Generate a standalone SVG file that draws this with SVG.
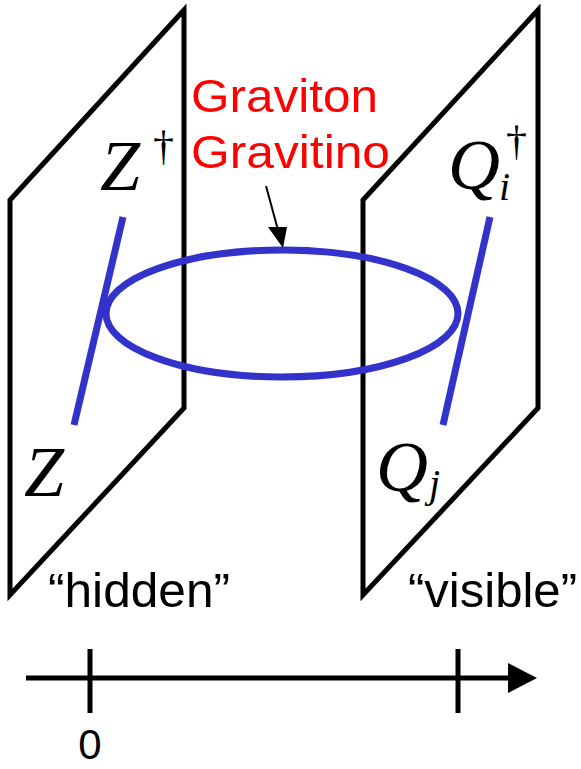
<svg xmlns="http://www.w3.org/2000/svg" width="581" height="769" viewBox="0 0 581 769">
<style>
.plane{fill:none;stroke:#000;stroke-width:5;stroke-linejoin:miter}
.blue{fill:none;stroke:#3333cc;stroke-width:7}
.lbl{font-family:"Liberation Sans",Arial,sans-serif;font-size:48px;fill:#000}
.red{font-family:"Liberation Sans",Arial,sans-serif;font-size:47px;fill:#ff0000}
.math{font-family:"Liberation Serif","Times New Roman",serif;font-style:italic;fill:#000}
.up{font-family:"Liberation Serif","Times New Roman",serif;fill:#000}
.ax{stroke:#000;stroke-width:5;fill:none}
</style>
<rect width="581" height="769" fill="#fff"/>
<g id="hidden-plane">
<polygon class="plane" points="10,200 184,10 184,408 10,595"/>
</g>
<g id="visible-plane">
<polygon class="plane" points="363,200 538,10 538,408 363,595"/>
</g>
<g id="connectors">
<line class="blue" x1="123" y1="217" x2="74" y2="425"/>
<line class="blue" x1="490" y1="217" x2="443" y2="425"/>
<ellipse id="loop" class="blue" cx="282" cy="313.5" rx="176" ry="63.5"/>
<line x1="266" y1="186" x2="278" y2="230" stroke="#000" stroke-width="2"/>
<polygon points="268,227 287,227 283,248" fill="#000"/>
</g>
<g id="label-graviton">
<text class="red" x="191" y="112" textLength="187" lengthAdjust="spacingAndGlyphs">Graviton</text>
<text class="red" x="191" y="168" textLength="199" lengthAdjust="spacingAndGlyphs">Gravitino</text>
</g>
<g id="label-zdag">
<text class="math" x="100" y="190" font-size="72">Z</text>
<text class="up" x="153" y="160" font-size="42">†</text>
</g>
<g id="label-z">
<text class="math" x="24" y="496" font-size="72">Z</text>
</g>
<g id="label-qidag">
<text class="math" x="448" y="189" font-size="72">Q</text>
<text class="math" x="499" y="200" font-size="40">i</text>
<text class="up" x="506" y="155" font-size="42">†</text>
</g>
<g id="label-qj">
<text class="math" x="376" y="491" font-size="72">Q</text>
<text class="math" x="429" y="497" font-size="40">j</text>
</g>
<g id="label-hidden">
<text class="lbl" x="48" y="607" textLength="182" lengthAdjust="spacingAndGlyphs">“hidden”</text>
</g>
<g id="label-visible">
<text class="lbl" x="408" y="607" textLength="169" lengthAdjust="spacingAndGlyphs">“visible”</text>
</g>
<g id="axis">
<line class="ax" x1="26" y1="678" x2="510" y2="678"/>
<polygon points="508,663 537,678 508,693" fill="#000"/>
<line class="ax" x1="90" y1="649" x2="90" y2="713"/>
<line class="ax" x1="458" y1="649" x2="458" y2="713"/>
<text class="lbl" x="90" y="759" style="font-size:42px" text-anchor="middle">0</text>
</g>
</svg>
